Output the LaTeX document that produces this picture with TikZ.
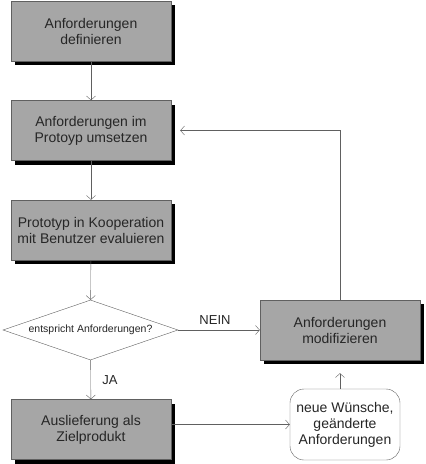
\documentclass[tikz,border=0pt]{standalone}
\usepackage{fontspec}
\setmainfont{Liberation Sans}
\usetikzlibrary{arrows.meta, shapes.geometric, shadows, positioning}
\definecolor{boxgray}{RGB}{166,166,166}
\definecolor{linegray}{RGB}{96,96,96}
\tikzset{>={Straight Barb[length=4pt,width=9pt]}}
\tikzset{
	stepbox/.style={draw=linegray, fill=boxgray, minimum width=160pt, minimum height=60pt, inner sep=0pt, align=center, text=black!85, font=\fontsize{14}{16}\selectfont, drop shadow={shadow xshift=4pt, shadow yshift=-4pt, fill=black, opacity=1}},
	decision/.style={diamond, draw=linegray, fill=white, aspect=2.9, minimum width=175pt, minimum height=60pt, inner sep=0pt, text=black!85, font=\fontsize{10.5}{12}\selectfont},
	wishbox/.style={draw=linegray, fill=white, rounded corners=14pt, minimum width=110pt, minimum height=71pt, inner sep=0pt, align=center, text=black!85, font=\fontsize{14}{16}\selectfont},
	flow/.style={draw=linegray, ->},
	flowlabel/.style={text=black!85, font=\fontsize{13}{15}\selectfont}
}
\begin{document}
\begin{tikzpicture}[x=1pt, y=-1pt]

	\useasboundingbox (0,0) rectangle (426,464);

	\node [stepbox] (define) at (91,31) {Anforderungen\\definieren};
	\node [stepbox] (implement) at (91,130.5) {Anforderungen im\\Protoyp umsetzen};
	\node [stepbox] (evaluate) at (91,230) {Prototyp in Kooperation\\mit Benutzer evaluieren};
	\node [decision] (check) at (90.5,330) {entspricht Anforderungen?};
	\node [stepbox] (deliver) at (91,429.5) {Auslieferung als\\Zielprodukt};
	\node [stepbox] (modify) at (340,330) {Anforderungen\\modifizieren};
	\node [wishbox] (wishes) at (345,424.5) {neue W\"unsche,\\ge\"anderte\\Anforderungen};

	\draw [flow] (define) -- (implement);
	\draw [flow] (implement) -- (evaluate);
	\draw [flow] (evaluate) -- (check);
	\draw [flow] (check) -- node [flowlabel, right=8pt] (yes) {JA} (deliver);
	\draw [flow] (check) -- node [flowlabel, above=2pt, xshift=-4pt] (no) {NEIN} (modify);
	\draw [flow] (deliver.east |- wishes.west) -- (wishes.west);
	\draw [flow, shorten >=13pt] (wishes.north -| modify) -- (modify.south);
	\draw [flow, shorten >=9pt] (modify) |- (implement.east);

\end{tikzpicture}
\end{document}
